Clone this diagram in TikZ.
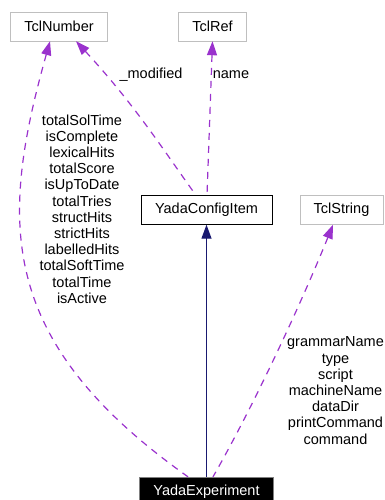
\documentclass[tikz,border=0pt]{standalone}
\usepackage{fontspec}
\setmainfont{Liberation Sans}
\usetikzlibrary{arrows.meta}
\definecolor{attr}{HTML}{9A32CD}
\definecolor{inh}{HTML}{191970}
\tikzset{cls/.style={draw=black!25,rectangle,inner xsep=14pt,minimum height=29pt,font=\fontsize{14.5}{16.2}\selectfont},
  use/.style={attr,line width=1.2pt,dash pattern=on 7pt off 6pt,{Triangle[length=14pt,width=10pt]}-},
  lbl/.style={align=center,inner sep=0pt,font=\fontsize{14.5}{16.2}\selectfont}}

\begin{document}
\begin{tikzpicture}[x=1pt,y=-1pt]
\useasboundingbox (0,0) rectangle (385,500);
% classes
\node[cls] (num) at (59,26.5) {TclNumber};
\node[cls] (ref) at (212.5,26.5) {TclRef};
\node[cls,draw=black] (cfg) at (206.5,210) {YadaConfigItem};
\node[cls] (str) at (341.5,210) {TclString};
\node[cls,fill=black,text=white,draw=black!50] (exp) at (206.5,491.5) {YadaExperiment};
% member labels
\node[lbl] (numattr) at (82,209) {totalSolTime\\isComplete\\lexicalHits\\totalScore\\isUpToDate\\totalTries\\structHits\\strictHits\\labelledHits\\totalSoftTime\\totalTime\\isActive};
\node[lbl] (strattr) at (335.5,390.5) {grammarName\\type\\script\\machineName\\dataDir\\printCommand\\command};
\node[lbl] (modlbl) at (151,75) {\_modified};
\node[lbl] (namelbl) at (231,75) {name};
% connectors
\draw[inh,line width=1.2pt,{Triangle[length=14pt,width=10pt]}-] (cfg.south) -- (exp.north);
\draw[use] ([xshift=-9pt]num.south) .. controls (0,220) and (-5,340) .. ([xshift=-18.5pt]exp.north);
\draw[use] ([xshift=17pt]num.south) .. controls (136,106) and (166,154) .. ([xshift=-10.5pt]cfg.north);
\draw[use] (ref.south) -- ([xshift=0.5pt]cfg.north);
\draw[use] ([xshift=-8.5pt]str.south) .. controls (301,304) and (253,407) .. ([xshift=6.5pt]exp.north);
\end{tikzpicture}
\end{document}
